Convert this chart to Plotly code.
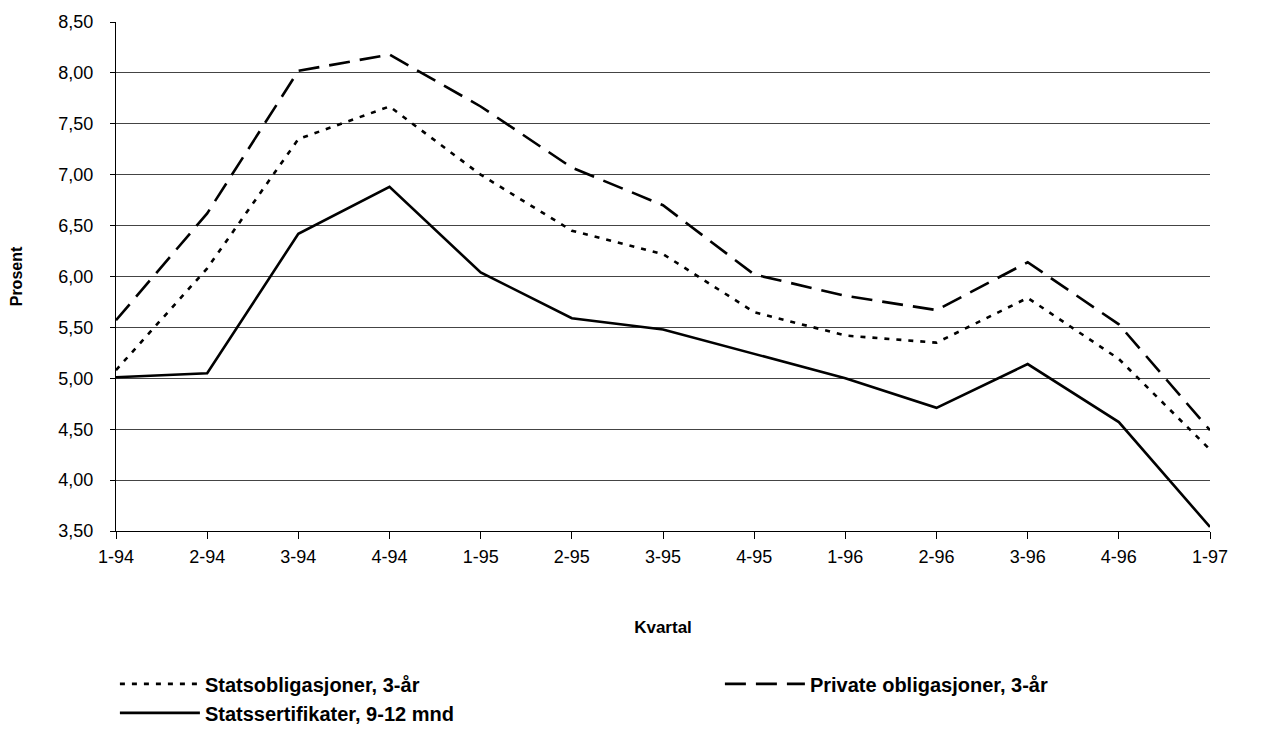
"""Rentekurver per kvartal, 1994-1997."""

import plotly.graph_objects as go

KVARTAL = ["1-94", "2-94", "3-94", "4-94", "1-95", "2-95", "3-95",
           "4-95", "1-96", "2-96", "3-96", "4-96", "1-97"]
STATSOBLIGASJONER = [5.08, 6.08, 7.35, 7.67, 7.00, 6.45, 6.22,
                     5.65, 5.42, 5.35, 5.79, 5.19, 4.30]
PRIVATE_OBLIGASJONER = [5.57, 6.62, 8.02, 8.18, 7.67, 7.07, 6.70,
                        6.02, 5.81, 5.67, 6.14, 5.53, 4.49]
STATSSERTIFIKATER = [5.01, 5.05, 6.42, 6.88, 6.04, 5.59, 5.48,
                     5.24, 5.00, 4.71, 5.14, 4.57, 3.54]
Y_TICKS = [3.5, 4.0, 4.5, 5.0, 5.5, 6.0, 6.5, 7.0, 7.5, 8.0, 8.5]

FONT = "Liberation Sans, Arial, sans-serif"

fig = go.Figure()
series = [
    ("Statsobligasjoner, 3-år", STATSOBLIGASJONER, "5px,7px"),
    ("Private obligasjoner, 3-år", PRIVATE_OBLIGASJONER, "21px,10px"),
    ("Statssertifikater, 9-12 mnd", STATSSERTIFIKATER, "solid"),
]
for name, values, dash in series:
    fig.add_trace(
        go.Scatter(
            x=KVARTAL,
            y=values,
            mode="lines",
            name=name,
            line={"color": "black", "width": 2.6, "dash": dash},
        )
    )

fig.update_layout(
    width=1275,
    height=736,
    margin={"l": 116, "r": 65, "t": 22, "b": 205, "autoexpand": False},
    paper_bgcolor="white",
    plot_bgcolor="white",
    separators=", ",
    font={"family": FONT, "color": "black", "size": 17},
    showlegend=True,
    legend={
        "orientation": "h",
        "x": -0.001,
        "xanchor": "left",
        "y": -0.262,
        "yanchor": "top",
        "entrywidth": 510,
        "itemwidth": 80,
        "font": {"family": FONT, "size": 20, "color": "black", "weight": "bold"},
    },
)
fig.update_xaxes(
    type="category",
    range=[0, len(KVARTAL) - 1],
    showline=True,
    linecolor="black",
    linewidth=1,
    ticks="outside",
    ticklen=7,
    tickcolor="black",
    showgrid=False,
    tickfont={"size": 18},
    ticklabelstandoff=2,
    title={"text": "Kvartal", "font": {"size": 17, "weight": "bold"}, "standoff": 55},
)
fig.update_yaxes(
    range=[3.5, 8.5],
    tickvals=Y_TICKS,
    tickformat=".2f",
    showline=True,
    linecolor="black",
    linewidth=1,
    ticks="outside",
    ticklen=5,
    tickcolor="black",
    showgrid=True,
    gridcolor="#444444",
    gridwidth=1,
    zeroline=False,
    tickfont={"size": 18},
    ticklabelstandoff=13,
    title={"text": "Prosent", "font": {"size": 16, "weight": "bold"}, "standoff": 31},
)

# Fjern standardmargen i <body> slik at figuren starter i hjørnet.
fig.write_html(
    "out.html",
    config={"displayModeBar": False},
    post_script="document.body.style.margin = '0';",
)
